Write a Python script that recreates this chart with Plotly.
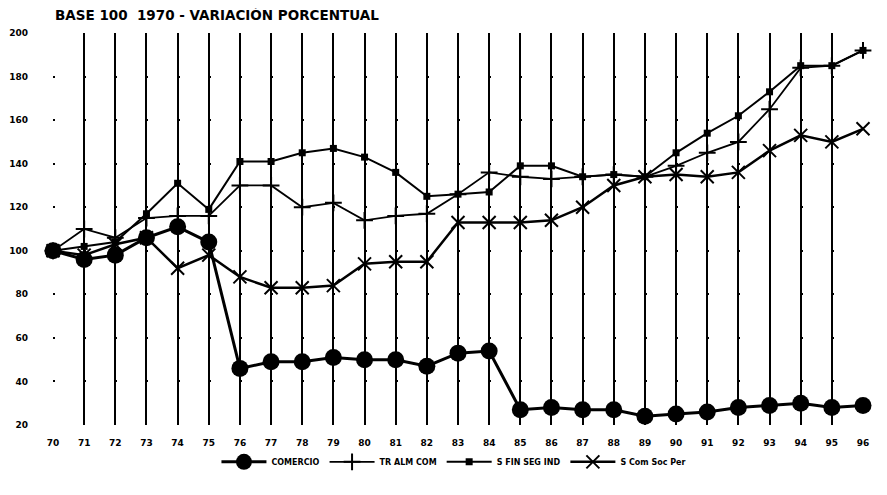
import plotly.graph_objects as go

years = [1970, 1971, 1972, 1973, 1974, 1975, 1976, 1977, 1978, 1979, 1980, 1981, 1982,
         1983, 1984, 1985, 1986, 1987, 1988, 1989, 1990, 1991, 1992, 1993, 1994, 1995, 1996]
year_labels = ["70", "71", "72", "73", "74", "75", "76", "77", "78", "79", "80", "81", "82",
               "83", "84", "85", "86", "87", "88", "89", "90", "91", "92", "93", "94", "95", "96"]

comercio = [100, 96, 98, 106, 111, 104, 46, 49, 49, 51, 50, 50, 47,
            53, 54, 27, 28, 27, 27, 24, 25, 26, 28, 29, 30, 28, 29]
tr_alm_com = [100, 110, 106, 115, 116, 116, 130, 130, 120, 122, 114, 116, 117,
              126, 136, 134, 133, 134, 135, 134, 139, 145, 150, 165, 184, 185, 192]
s_fin_seg_ind = [100, 102, 104, 117, 131, 119, 141, 141, 145, 147, 143, 136, 125,
                 126, 127, 139, 139, 134, 135, 134, 145, 154, 162, 173, 185, 185, 192]
s_com_soc_per = [100, 98, 103, 106, 92, 98, 88, 83, 83, 84, 94, 95, 95,
                 113, 113, 113, 114, 120, 130, 134, 135, 134, 136, 146, 153, 150, 156]

y_ticks = [20, 40, 60, 80, 100, 120, 140, 160, 180, 200]

FONT = "DejaVu Sans"
W, H = 879, 487  # page body has an 8px margin

fig = go.Figure()
fig.add_trace(go.Scatter(
    x=years, y=comercio, name="COMERCIO", mode="lines+markers",
    line=dict(color="black", width=3),
    marker=dict(symbol="circle", size=17, color="black"),
    cliponaxis=False))
fig.add_trace(go.Scatter(
    x=years, y=tr_alm_com, name="TR ALM COM", mode="lines+markers",
    line=dict(color="black", width=1.8),
    marker=dict(symbol="cross-thin-open", size=12, color="black",
                line=dict(color="black", width=2)),
    cliponaxis=False))
fig.add_trace(go.Scatter(
    x=years, y=s_fin_seg_ind, name="S FIN SEG IND", mode="lines+markers",
    line=dict(color="black", width=2),
    marker=dict(symbol="square", size=7, color="black"),
    cliponaxis=False))
fig.add_trace(go.Scatter(
    x=years, y=s_com_soc_per, name="S Com Soc Per", mode="lines+markers",
    line=dict(color="black", width=2.5),
    marker=dict(symbol="x-thin-open", size=13, color="black",
                line=dict(color="black", width=2)),
    cliponaxis=False))

fig.update_layout(
    width=W, height=H,
    margin=dict(l=45, r=24, t=25, b=70, autoexpand=False),
    paper_bgcolor="white", plot_bgcolor="white",
    font=dict(family=FONT, size=9, color="black", weight="bold"),
    title=dict(text="BASE 100  1970 - VARIACIÓN PORCENTUAL", x=47 / W, xanchor="left",
               y=1 - 7 / H, yanchor="middle", automargin=False,
               font=dict(family=FONT, size=13.5, color="black", weight="bold")),
    showlegend=True,
    legend=dict(orientation="h", x=0.495, xanchor="center", y=-0.094, yanchor="middle",
                font=dict(family=FONT, size=8, color="black", weight="bold"),
                itemwidth=45, bgcolor="rgba(0,0,0,0)"),
)
fig.update_xaxes(
    range=[1970, 1996], tickmode="array", tickvals=years, ticktext=year_labels,
    showgrid=True, gridcolor="black", gridwidth=1.5, automargin=False,
    showline=False, zeroline=False, ticks="", ticklabelstandoff=11,
    tickfont=dict(family=FONT, size=9, color="black", weight="bold"))
fig.update_yaxes(
    range=[20, 200], tickmode="array", tickvals=y_ticks, automargin=False,
    showgrid=True, gridcolor="black", gridwidth=2, griddash="2px,29.15px",
    showline=False, zeroline=False, ticks="", ticklabelstandoff=24,
    tickfont=dict(family=FONT, size=9, color="black", weight="bold"))

fig.write_html("out.html")
